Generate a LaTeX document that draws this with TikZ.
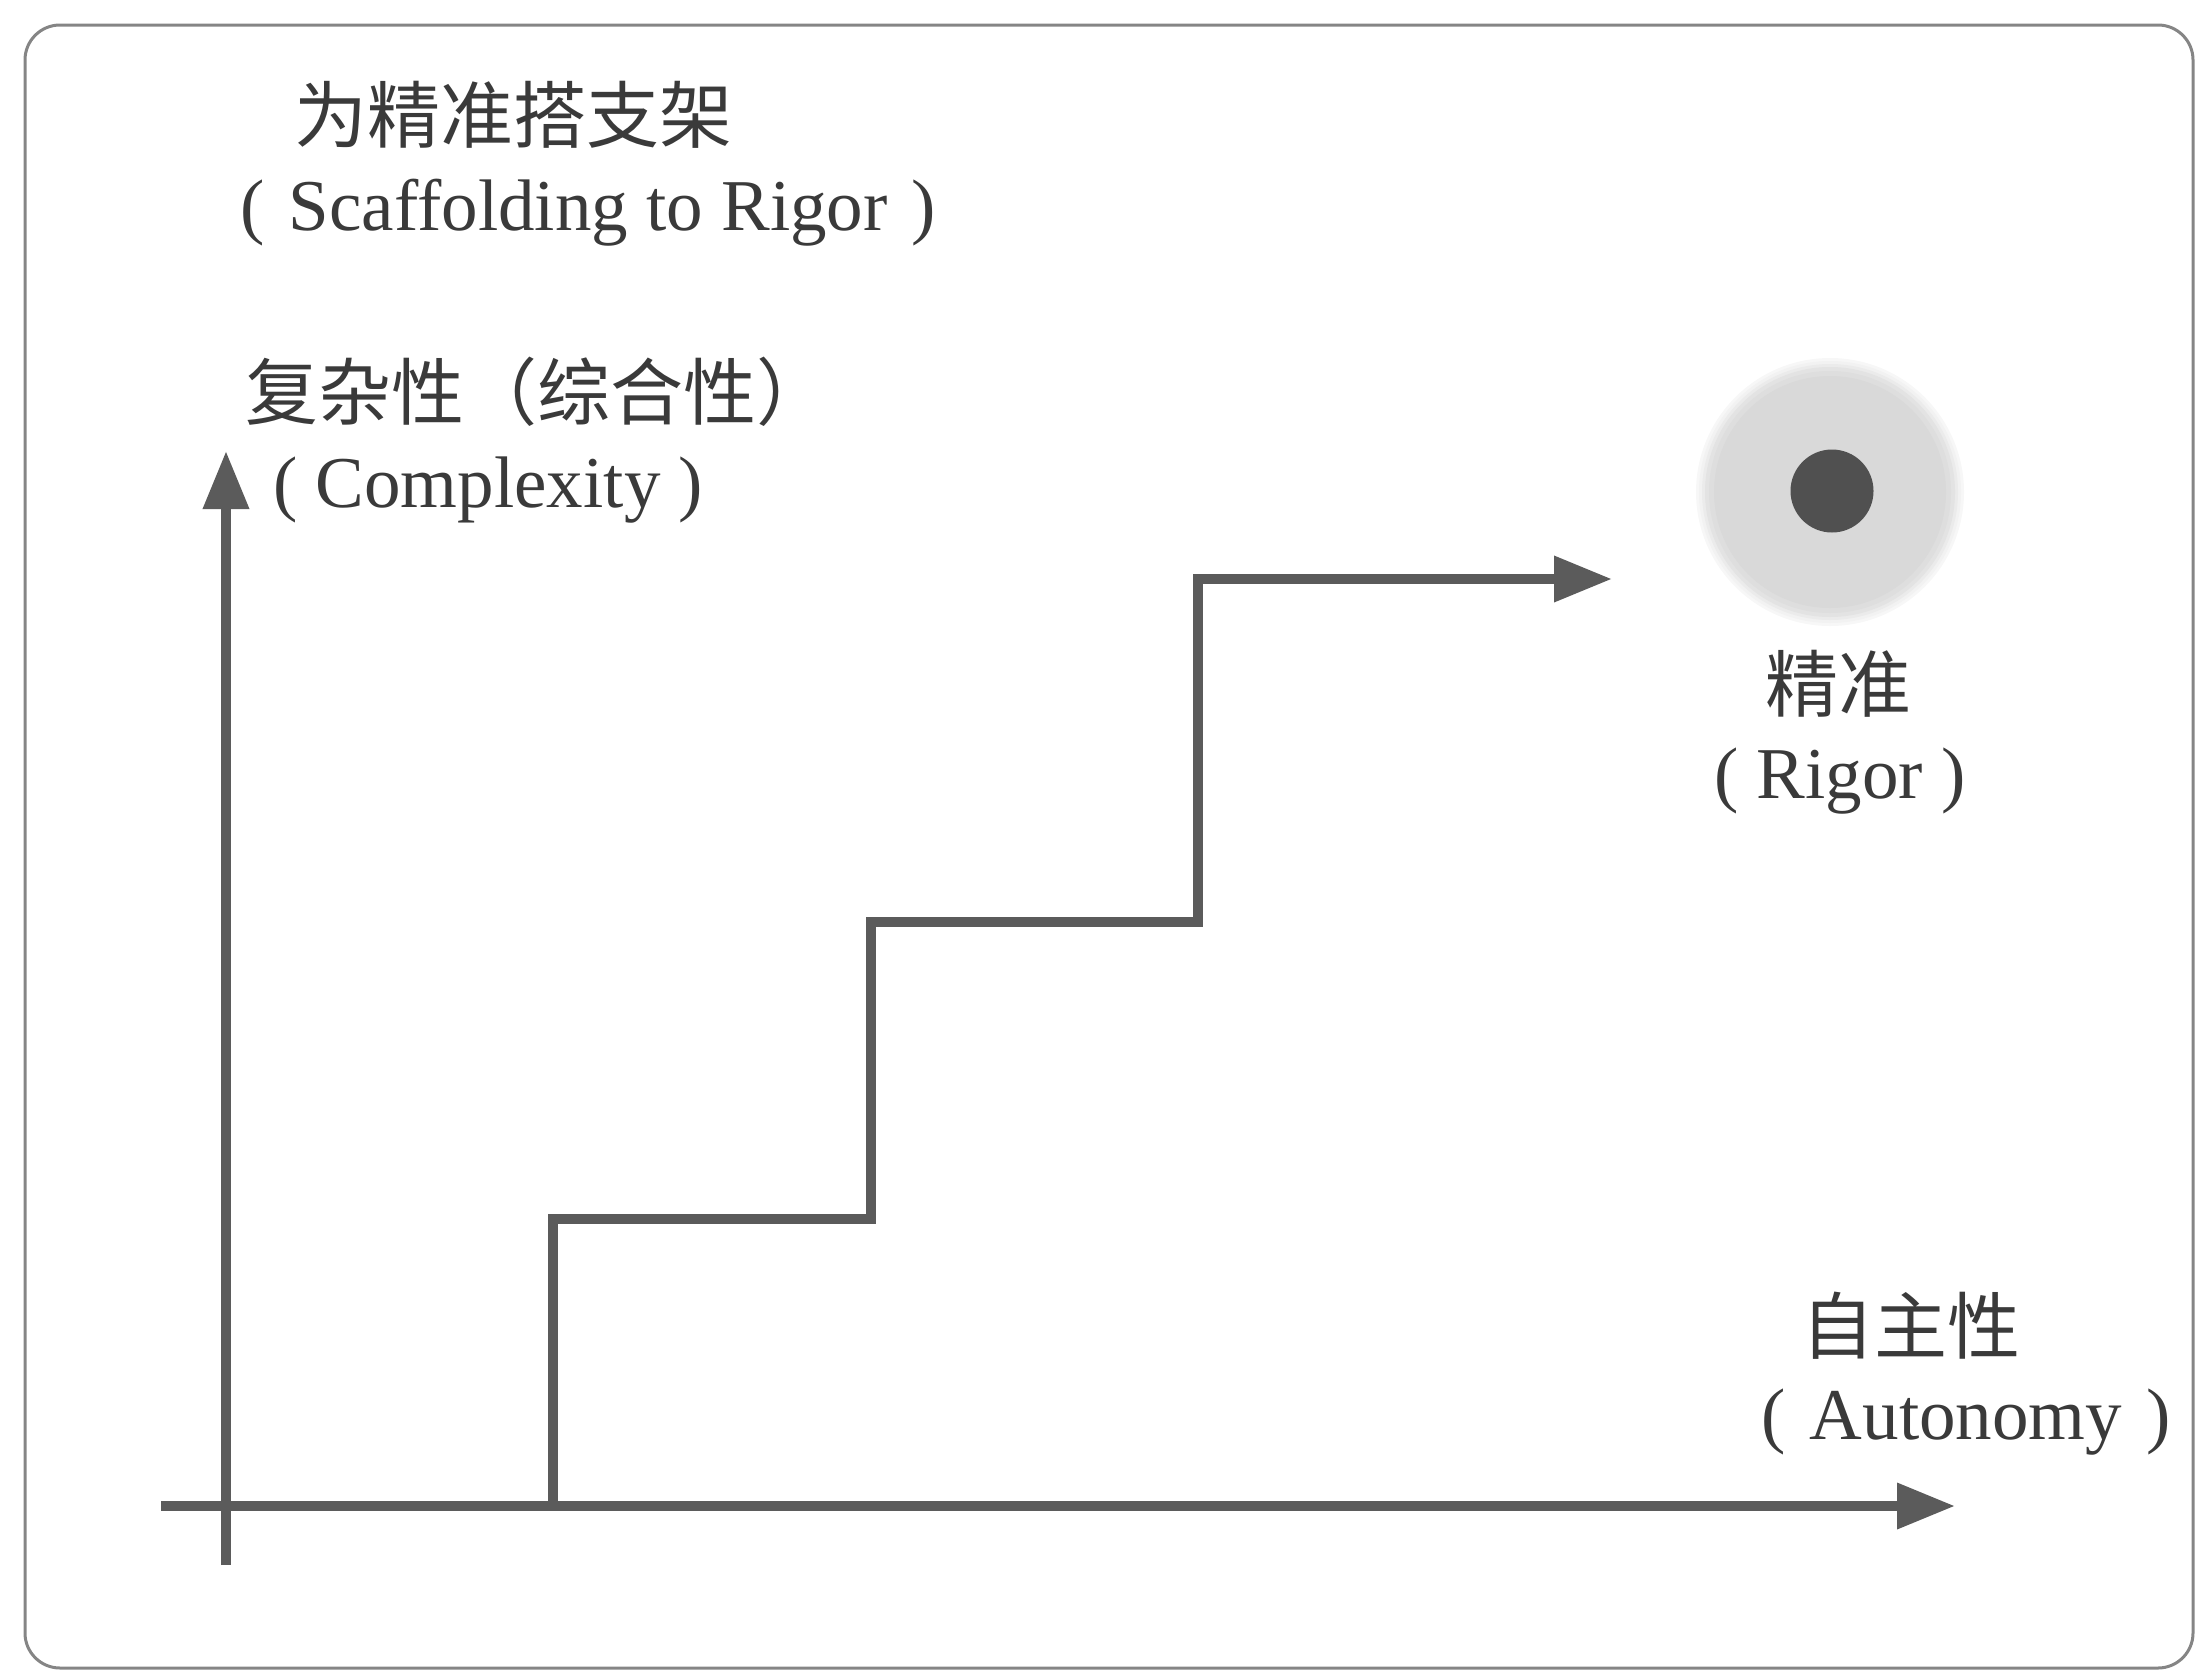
\documentclass[tikz,border=0pt]{standalone}
\usepackage{fontspec}
\setmainfont{Liberation Serif}
\newfontfamily\cjk{Noto Sans CJK SC}
\usetikzlibrary{arrows.meta}
\definecolor{linegray}{HTML}{5B5B5B}
\definecolor{txtgray}{HTML}{3A3A3A}
\definecolor{framegray}{HTML}{858585}
\definecolor{dotgray}{HTML}{505050}
\begin{document}
\begin{tikzpicture}[x=1pt,y=-1pt,
  ln/.style={draw=linegray, line width=10pt},
  tipa/.style={-{Triangle[length=58pt,width=44pt]}},
  cn/.style={font=\cjk\fontsize{73}{80}\selectfont, text=txtgray, inner sep=0pt},
  en/.style={font=\fontsize{73}{80}\selectfont, text=txtgray, inner sep=0pt},
]
\useasboundingbox (0,0) rectangle (2197,1673);
\draw[framegray, line width=3pt, rounded corners=35pt] (25,25) rectangle (2193,1668);

% labels
\node[cn, anchor=west] (t1) at (294,115) {为精准搭支架};
\node[en, anchor=west] (t2) at (240,213) {(\hspace{6pt} Scaffolding to Rigor\hspace{6pt} )};
\node[cn, anchor=west] (y1) at (245,392) {复杂性（综合性）};
\node[en, anchor=west] (y2) at (273,490) {( Complexity )};
\node[cn] (r1) at (1838,684) {精准};
\node[en] (r2) at (1840,781) {( Rigor )};
\node[cn] (x1) at (1911,1326) {自主性};
\node[en] (x2) at (1966,1422) {(\hspace{6pt} Autonomy\hspace{6pt} )};

% rigor target (soft halo)
\foreach \r/\c in {134/3,131/5,128/8,125/11,121/13,116/15}
  \fill[black!\c] (1830,492) circle (\r pt);
\node[circle, fill=dotgray, minimum size=83pt, inner sep=0pt] (dot) at (1832,491) {};

% axes
\coordinate (yb) at (226,1565);
\coordinate (yt) at (226,451);
\coordinate (xl) at (161,1506);
\coordinate (xr) at (1955,1506);
\draw[ln, tipa] (yb) -- (yt);
\draw[ln, tipa] (xl) -- (xr);

% steps
\coordinate (s0) at (553,1506);
\coordinate (s1) at (553,1219);
\coordinate (s2) at (871,1219);
\coordinate (s3) at (871,922);
\coordinate (s4) at (1198,922);
\coordinate (s5) at (1198,579);
\coordinate (s6) at (1612,579);
\draw[ln, tipa, line join=miter] (s0) -- (s1) -- (s2) -- (s3) -- (s4) -- (s5) -- (s6);
\end{tikzpicture}
\end{document}
